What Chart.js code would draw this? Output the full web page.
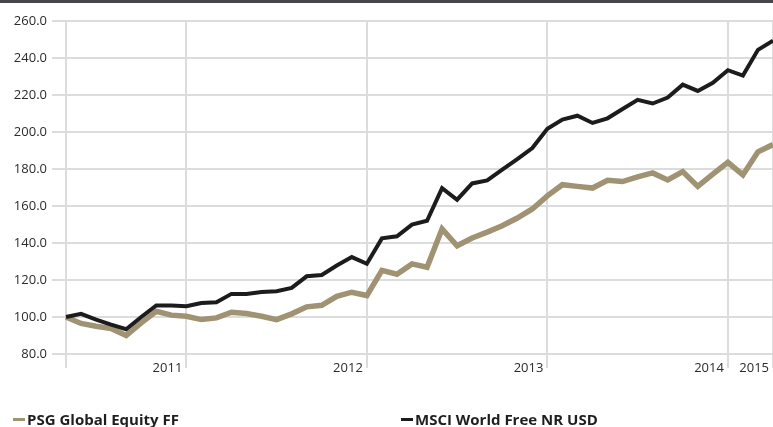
<!DOCTYPE html>
<html>
<head>
<meta charset="utf-8">
<script src="https://cdn.jsdelivr.net/npm/chart.js@4/dist/chart.umd.min.js"></script>
<style>
  html, body { margin: 0; padding: 0; background: #fff; }
  #wrap { position: relative; width: 773px; height: 427px; overflow: hidden; }
  #topbar { position: absolute; left: 0; top: 0; width: 773px; height: 3px; background: #45474b; }
  canvas { position: absolute; left: 0; top: 0; }
  .leg { position: absolute; top: 411px; font-family: "Open Sans", sans-serif; font-weight: bold; font-size: 15px; line-height: 17px; color: #1e1e1e; white-space: nowrap; }
  .leg .mk { display: inline-block; width: 12px; height: 3px; vertical-align: 4px; margin-right: 2px; }
</style>
</head>
<body>
<div id="wrap">
  <canvas id="c" width="773" height="427"></canvas>
  <div id="topbar"></div>
  <div class="leg" id="leg0" style="left:13px;"></div>
  <div class="leg" id="leg1" style="left:401px;"></div>
</div>
<script>
// ---- data ----
const categories = [
  'Apr 2011','May 2011','Jun 2011','Jul 2011','Aug 2011','Sep 2011','Oct 2011','Nov 2011','Dec 2011',
  'Jan 2012','Feb 2012','Mar 2012','Apr 2012','May 2012','Jun 2012','Jul 2012','Aug 2012','Sep 2012','Oct 2012','Nov 2012','Dec 2012',
  'Jan 2013','Feb 2013','Mar 2013','Apr 2013','May 2013','Jun 2013','Jul 2013','Aug 2013','Sep 2013','Oct 2013','Nov 2013','Dec 2013',
  'Jan 2014','Feb 2014','Mar 2014','Apr 2014','May 2014','Jun 2014','Jul 2014','Aug 2014','Sep 2014','Oct 2014','Nov 2014','Dec 2014',
  'Jan 2015','Feb 2015','Mar 2015'
];
const seriesNames = ['PSG Global Equity FF', 'MSCI World Free NR USD'];
const psgValues = [100, 96.5, 95.0, 93.8, 90.0, 96.8, 103.1, 101.0, 100.4, 98.6, 99.5, 102.6,
  101.9, 100.4, 98.6, 101.7, 105.5, 106.3, 111.2, 113.4, 111.6, 125.2, 123.1, 128.7,
  126.9, 147.6, 138.5, 142.7, 145.9, 149.3, 153.5, 158.4, 165.5, 171.5, 170.6, 169.7,
  173.9, 173.2, 175.7, 177.9, 174.1, 178.6, 170.6, 177.2, 183.6, 176.8, 189.3, 193.2];
const msciValues = [100, 101.7, 98.6, 95.9, 93.4, 100.0, 106.2, 106.2, 105.8, 107.6, 108.0, 112.5,
  112.5, 113.5, 113.9, 115.7, 122.0, 122.7, 127.8, 132.4, 128.8, 142.5, 143.6, 149.9,
  152.0, 169.7, 163.4, 172.2, 173.8, 179.6, 185.3, 191.3, 201.7, 206.7, 208.8, 204.9,
  207.4, 212.4, 217.4, 215.4, 218.6, 225.6, 222.2, 226.6, 233.4, 230.5, 244.4, 249.4];
const yMin = 80, yMax = 260, yStep = 20;

// ---- styles ----
const colors = ['#a09373', '#1c1c1c'];
const widths = [5.5, 4];
const gridColor = '#dcdcdc';
const tickFont = { family: 'Open Sans', size: 13 };
const tickColor = '#2b2b2b';

const lastIdx = categories.length - 1;
function isYearEnd(i) {
  return categories[i].startsWith('Dec') || i === lastIdx;
}

new Chart(document.getElementById('c'), {
  type: 'line',
  data: {
    labels: categories,
    datasets: [
      { label: seriesNames[0], data: psgValues, borderColor: colors[0], backgroundColor: colors[0],
        borderWidth: widths[0], pointRadius: 0, tension: 0, order: 1, borderJoinStyle: 'miter', borderCapStyle: 'butt' },
      { label: seriesNames[1], data: msciValues, borderColor: colors[1], backgroundColor: colors[1],
        borderWidth: widths[1], pointRadius: 0, tension: 0, order: 0, borderJoinStyle: 'miter', borderCapStyle: 'butt' }
    ]
  },
  options: {
    responsive: false,
    animation: false,
    devicePixelRatio: 1,
    layout: { padding: { top: 21, left: 0, right: 0, bottom: 0 } },
    plugins: { legend: { display: false }, tooltip: { enabled: false } },
    scales: {
      x: {
        type: 'category',
        offset: false,
        border: { display: false },
        grid: {
          color: ctx => (ctx.index === 0 || isYearEnd(ctx.index)) ? gridColor : 'rgba(0,0,0,0)',
          lineWidth: 2,
          tickLength: 14,
          drawTicks: true
        },
        ticks: {
          autoSkip: false,
          maxRotation: 0,
          minRotation: 0,
          align: 'end',
          labelOffset: -4,
          padding: -8,
          font: tickFont,
          color: tickColor,
          callback: (v, i) => isYearEnd(i) ? categories[i].slice(-4) : ''
        },
        afterFit: s => { s.height = 73; }
      },
      y: {
        min: yMin,
        max: yMax,
        border: { display: false },
        grid: { color: gridColor, lineWidth: 2, tickLength: 14, drawTicks: true },
        ticks: {
          stepSize: yStep,
          padding: 5,
          font: tickFont,
          color: tickColor,
          callback: v => Number(v).toFixed(1)
        },
        afterFit: s => { s.width = 66; }
      }
    }
  }
});

// HTML legend built from the series names / colours
[0, 1].forEach(k => {
  const el = document.getElementById('leg' + k);
  const mk = document.createElement('span');
  mk.className = 'mk';
  mk.style.background = colors[k];
  el.appendChild(mk);
  el.appendChild(document.createTextNode(seriesNames[k]));
});
</script>
</body>
</html>
